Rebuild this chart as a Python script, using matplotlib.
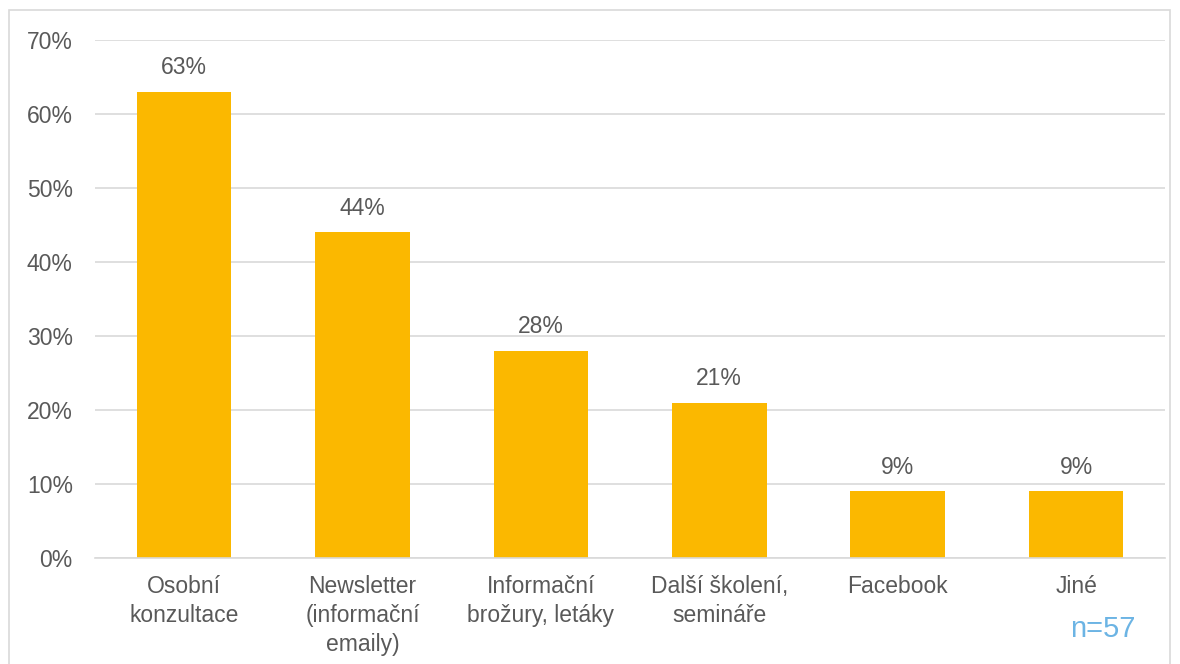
import matplotlib
matplotlib.use("Agg")
import matplotlib.pyplot as plt
from matplotlib.patches import Rectangle
from matplotlib.ticker import FuncFormatter, MultipleLocator

categories = [
    "Osobní\nkonzultace",
    "Newsletter\n(informační\nemaily)",
    "Informační\nbrožury, letáky",
    "Další školení,\nsemináře",
    "Facebook",
    "Jiné",
]
shares = [63, 44, 28, 21, 9, 9]
sample_note = "n=57"

BAR = "#FBB800"
TEXT = "#595959"
GRID = "#D9D9D9"

plt.rcParams["font.family"] = ["Liberation Sans", "DejaVu Sans"]

fig = plt.figure(figsize=(11.8, 6.64), dpi=100)
ax = fig.add_axes([0.0805, 0.1596, 0.907, 0.7802])

x = range(len(categories))
bars = ax.bar(x, shares, width=0.53, color=BAR, zorder=2)
for b, v in zip(bars, shares):
    ax.annotate(f"{v}%", (b.get_x() + b.get_width() / 2, v),
                xytext=(0, 9), textcoords="offset points",
                ha="center", va="bottom", fontsize=16.5, color=TEXT)

ax.set_xlim(-0.5, len(categories) - 0.5)
ax.set_ylim(0, 70)
ax.yaxis.set_major_locator(MultipleLocator(10))
ax.yaxis.set_major_formatter(FuncFormatter(lambda v, _: f"{v:.0f}%"))
ax.set_xticks(list(x))
ax.set_xticklabels(categories, linespacing=1.35)
ax.tick_params(axis="y", length=0, pad=16, labelsize=16.5, labelcolor=TEXT)
ax.tick_params(axis="x", length=0, pad=12, labelsize=16.5, labelcolor=TEXT)
ax.grid(axis="y", color=GRID, linewidth=1.2, zorder=0)
for side in ("left", "right", "top"):
    ax.spines[side].set_visible(False)
ax.spines["bottom"].set_color(GRID)
ax.spines["bottom"].set_linewidth(1.2)

fig.text(0.935, 0.053, sample_note, ha="center", va="center",
         fontsize=21, color="#6CB4E4")

# light frame around the whole chart
fig.patches.append(Rectangle((9 / 1180, -0.05), 1161 / 1180, 1.05 - 10 / 664,
                             transform=fig.transFigure, fill=False,
                             edgecolor=GRID, linewidth=1.2))

fig.savefig("out.png", dpi=100)
